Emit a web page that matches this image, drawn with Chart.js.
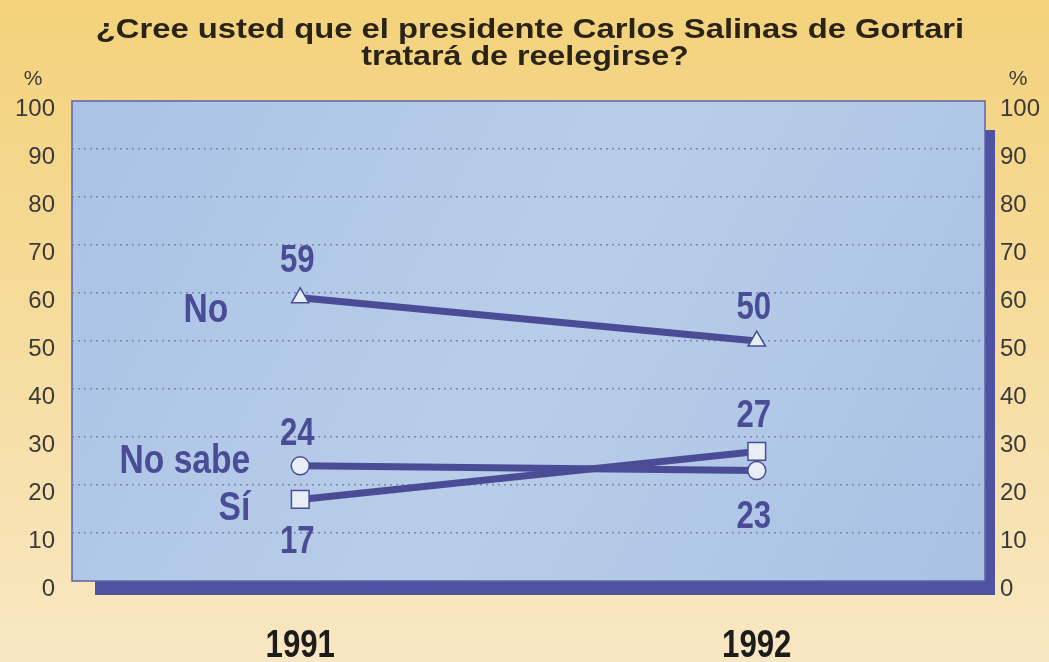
<!DOCTYPE html>
<html>
<head>
<meta charset="utf-8">
<script src="https://cdn.jsdelivr.net/npm/chart.js@4.4.0/dist/chart.umd.min.js"></script>
<style>
    html, body { margin: 0; padding: 0; }
    body { width: 1049px; height: 662px; overflow: hidden; background: linear-gradient(#f3d27b, #f6dc9d 50%, #f8e7c3); }
    #wrap { position: relative; width: 1049px; height: 662px; }
</style>
</head>
<body>
<div id="wrap"><canvas id="chart"></canvas></div>
<script>
// Data
const years = ['1991', '1992'];
const noValues = [59, 50];
const noSabeValues = [24, 23];
const siValues = [17, 27];
const seriesNames = ['No', 'No sabe', 'Sí'];
const titleLines = ['¿Cree usted que el presidente Carlos Salinas de Gortari', 'tratará de reelegirse?'];

const blue = '#4a4d96';
const sans = "'Liberation Sans', Arial, sans-serif";

// draw text squeezed or stretched horizontally
function drawScaled(ctx, text, x, y, sx, align) {
    ctx.save();
    ctx.translate(x, y);
    ctx.scale(sx, 1);
    ctx.textAlign = align;
    ctx.fillText(text, 0, 0);
    ctx.restore();
}

// Box with drop shadow behind the plot
const boxPlugin = {
    id: 'box',
    beforeDraw(chart) {
        const ctx = chart.ctx;
        const a = chart.chartArea;
        ctx.save();
        ctx.fillStyle = '#4f52a0';
        ctx.fillRect(a.left + 23, a.top + 29, a.right - a.left - 13, a.bottom - a.top - 15);
        const g = ctx.createLinearGradient(a.left, a.top, a.right, a.bottom);
        g.addColorStop(0, '#aac3e6');
        g.addColorStop(0.5, '#b8cde8');
        g.addColorStop(1, '#a9c2e4');
        ctx.fillStyle = g;
        ctx.fillRect(a.left, a.top, a.right - a.left, a.bottom - a.top);
        ctx.strokeStyle = '#5d63a8';
        ctx.lineWidth = 1.5;
        ctx.strokeRect(a.left, a.top, a.right - a.left, a.bottom - a.top);
        ctx.restore();
    },
    afterDraw(chart) {
        const ctx = chart.ctx;
        ctx.save();
        // title
        ctx.fillStyle = '#2a2418';
        ctx.font = 'bold 28px ' + sans;
        ctx.textBaseline = 'alphabetic';
        drawScaled(ctx, titleLines[0], 530, 38, 1.17, 'center');
        drawScaled(ctx, titleLines[1], 525, 65, 1.15, 'center');
        // % signs over the axes
        ctx.font = '21px ' + sans;
        ctx.fillStyle = '#3a3a3a';
        ctx.textAlign = 'center';
        ctx.textBaseline = 'middle';
        ctx.fillText('%', 33, 79);
        ctx.fillText('%', 1018, 79);
        // year labels under the categories
        const xs = chart.scales.x;
        ctx.fillStyle = '#1c1c1c';
        ctx.font = 'bold 39px ' + sans;
        ctx.textBaseline = 'alphabetic';
        years.forEach(function(y, i) {
            drawScaled(ctx, y, xs.getPixelForValue(i), 657, 0.8, 'center');
        });
        ctx.restore();
    }
};

// Value labels and series names next to the points
const labelPlugin = {
    id: 'labels',
    afterDatasetsDraw(chart, args, opts) {
        const ctx = chart.ctx;
        ctx.save();
        ctx.fillStyle = blue;
        ctx.textBaseline = 'alphabetic';
        chart.data.datasets.forEach(function(ds, i) {
            const meta = chart.getDatasetMeta(i);
            const cfg = opts.series[i];
            ctx.font = 'bold 38px ' + sans;
            meta.data.forEach(function(pt, j) {
                drawScaled(ctx, String(ds.data[j]), pt.x - 3, pt.y + cfg.valueDy[j], 0.82, 'center');
            });
            const first = meta.data[0];
            ctx.font = 'bold 40px ' + sans;
            drawScaled(ctx, ds.label, first.x + cfg.nameDx, first.y + cfg.nameDy, 0.84, 'right');
        });
        ctx.restore();
    }
};

const pointFill = '#e8eef6';

new Chart(document.getElementById('chart'), {
    type: 'line',
    data: {
        labels: years,
        datasets: [{
            label: seriesNames[0],
            data: noValues,
            pointStyle: 'triangle',
            pointRadius: 10
        }, {
            label: seriesNames[1],
            data: noSabeValues,
            pointStyle: 'circle',
            pointRadius: 9
        }, {
            label: seriesNames[2],
            data: siValues,
            pointStyle: 'rect',
            pointRadius: 12.5
        }].map(function(d) {
            return Object.assign({
                borderColor: blue,
                borderWidth: 7,
                pointBackgroundColor: pointFill,
                pointBorderColor: blue,
                pointBorderWidth: 1.5,
                tension: 0,
                clip: false
            }, d);
        })
    },
    options: {
        responsive: true,
        maintainAspectRatio: false,
        animation: false,
        layout: { padding: { top: 101, left: 0, right: 0, bottom: 0 } },
        plugins: {
            legend: { display: false },
            tooltip: { enabled: false },
            labels: {
                series: [
                    { valueDy: [-26, -22], nameDx: -72, nameDy: 24 },
                    { valueDy: [-21, 57], nameDx: -50, nameDy: 7 },
                    { valueDy: [54, -24], nameDx: -50, nameDy: 21 }
                ]
            }
        },
        scales: {
            x: {
                offset: true,
                grid: { display: false, drawTicks: false },
                border: { display: false },
                ticks: { display: false },
                afterFit(scale) { scale.height = 81; }
            },
            y: {
                position: 'left',
                min: 0,
                max: 100,
                border: { display: false, dash: [2, 4] },
                grid: {
                    drawTicks: false,
                    color: function(c) {
                        return (c.tick.value === 0 || c.tick.value === 100) ? 'rgba(0,0,0,0)' : '#7b85a4';
                    },
                    lineWidth: 1.5
                },
                ticks: {
                    stepSize: 10,
                    color: '#3a3a3a',
                    font: { family: sans, size: 24 },
                    padding: 17,
                    labelOffset: 8
                },
                afterFit(scale) { scale.width = 72; }
            },
            y2: {
                position: 'right',
                min: 0,
                max: 100,
                border: { display: false },
                grid: { display: false, drawTicks: false },
                ticks: {
                    stepSize: 10,
                    color: '#3a3a3a',
                    font: { family: sans, size: 24 },
                    padding: 15,
                    labelOffset: 8
                },
                afterFit(scale) { scale.width = 64; }
            }
        }
    },
    plugins: [boxPlugin, labelPlugin]
});
</script>
</body>
</html>
